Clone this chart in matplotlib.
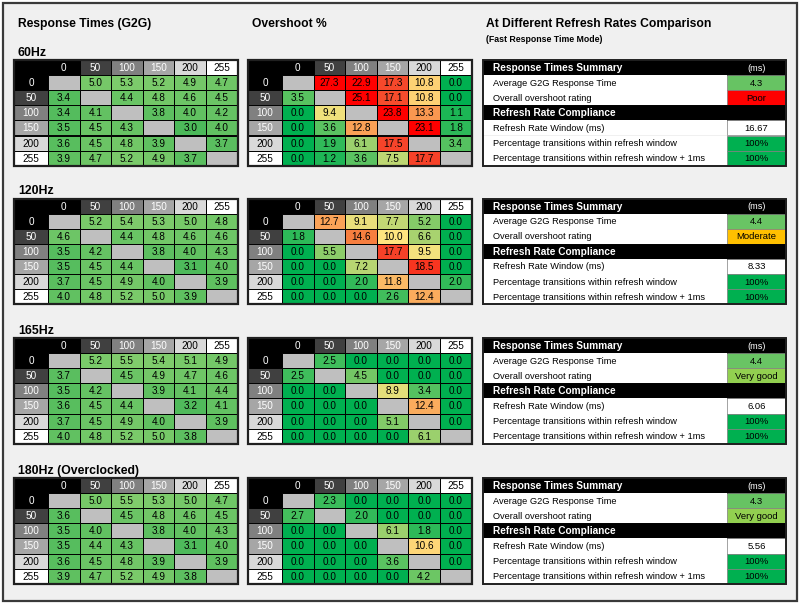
import numpy as np
import matplotlib
matplotlib.use('Agg')
import matplotlib.pyplot as plt
from matplotlib.patches import Rectangle
from matplotlib.colors import LinearSegmentedColormap

plt.rcParams['font.family'] = ['Liberation Sans', 'DejaVu Sans']

# Data

levels = ['0', '50', '100', '150', '200', '255']
sections = ['60Hz', '120Hz', '165Hz', '180Hz (Overclocked)']

resp_60 = [[None, 5.0, 5.3, 5.2, 4.9, 4.7],
           [3.4, None, 4.4, 4.8, 4.6, 4.5],
           [3.4, 4.1, None, 3.8, 4.0, 4.2],
           [3.5, 4.5, 4.3, None, 3.0, 4.0],
           [3.6, 4.5, 4.8, 3.9, None, 3.7],
           [3.9, 4.7, 5.2, 4.9, 3.7, None]]
over_60 = [[None, 27.3, 22.9, 17.3, 10.8, 0.0],
           [3.5, None, 25.1, 17.1, 10.8, 0.0],
           [0.0, 9.4, None, 23.8, 13.3, 1.1],
           [0.0, 3.6, 12.8, None, 23.1, 1.8],
           [0.0, 1.9, 6.1, 17.5, None, 3.4],
           [0.0, 1.2, 3.6, 7.5, 17.7, None]]

resp_120 = [[None, 5.2, 5.4, 5.3, 5.0, 4.8],
            [4.6, None, 4.4, 4.8, 4.6, 4.6],
            [3.5, 4.2, None, 3.8, 4.0, 4.3],
            [3.5, 4.5, 4.4, None, 3.1, 4.0],
            [3.7, 4.5, 4.9, 4.0, None, 3.9],
            [4.0, 4.8, 5.2, 5.0, 3.9, None]]
over_120 = [[None, 12.7, 9.1, 7.7, 5.2, 0.0],
            [1.8, None, 14.6, 10.0, 6.6, 0.0],
            [0.0, 5.5, None, 17.7, 9.5, 0.0],
            [0.0, 0.0, 7.2, None, 18.5, 0.0],
            [0.0, 0.0, 2.0, 11.8, None, 2.0],
            [0.0, 0.0, 0.0, 2.6, 12.4, None]]

resp_165 = [[None, 5.2, 5.5, 5.4, 5.1, 4.9],
            [3.7, None, 4.5, 4.9, 4.7, 4.6],
            [3.5, 4.2, None, 3.9, 4.1, 4.4],
            [3.6, 4.5, 4.4, None, 3.2, 4.1],
            [3.7, 4.5, 4.9, 4.0, None, 3.9],
            [4.0, 4.8, 5.2, 5.0, 3.8, None]]
over_165 = [[None, 2.5, 0.0, 0.0, 0.0, 0.0],
            [2.5, None, 4.5, 0.0, 0.0, 0.0],
            [0.0, 0.0, None, 8.9, 3.4, 0.0],
            [0.0, 0.0, 0.0, None, 12.4, 0.0],
            [0.0, 0.0, 0.0, 5.1, None, 0.0],
            [0.0, 0.0, 0.0, 0.0, 6.1, None]]

resp_180 = [[None, 5.0, 5.5, 5.3, 5.0, 4.7],
            [3.6, None, 4.5, 4.8, 4.6, 4.5],
            [3.5, 4.0, None, 3.8, 4.0, 4.3],
            [3.5, 4.4, 4.3, None, 3.1, 4.0],
            [3.6, 4.5, 4.8, 3.9, None, 3.9],
            [3.9, 4.7, 5.2, 4.9, 3.8, None]]
over_180 = [[None, 2.3, 0.0, 0.0, 0.0, 0.0],
            [2.7, None, 2.0, 0.0, 0.0, 0.0],
            [0.0, 0.0, None, 6.1, 1.8, 0.0],
            [0.0, 0.0, 0.0, None, 10.6, 0.0],
            [0.0, 0.0, 0.0, 3.6, None, 0.0],
            [0.0, 0.0, 0.0, 0.0, 4.2, None]]

avg_g2g = [4.3, 4.4, 4.4, 4.3]
overshoot_rating = ['Poor', 'Moderate', 'Very good', 'Very good']
refresh_window = ['16.67', '8.33', '6.06', '5.56']
within_window = ['100%', '100%', '100%', '100%']
within_window_1ms = ['100%', '100%', '100%', '100%']

summary_labels = ['Response Times Summary', 'Average G2G Response Time',
                  'Overall overshoot rating', 'Refresh Rate Compliance',
                  'Refresh Rate Window (ms)',
                  'Percentage transitions within refresh window',
                  'Percentage transitions within refresh window + 1ms']

resp_tables = [resp_60, resp_120, resp_165, resp_180]
over_tables = [over_60, over_120, over_165, over_180]

# Colours

level_fill = ['#000000', '#404040', '#808080', '#A6A6A6', '#D9D9D9', '#FFFFFF']
level_text = ['white', 'white', 'white', 'white', 'black', 'black']
diag_grey = '#BFBFBF'
rating_colours = {'Poor': '#FF0000', 'Moderate': '#FFC000', 'Very good': '#92D050'}

resp_cmap = LinearSegmentedColormap.from_list('resp', ['#4CB95A', '#80CC6C'])
over_cmap = LinearSegmentedColormap.from_list(
    'over', [(0.0, '#00B050'), (10 / 25, '#FFE47F'), (12.5 / 25, '#FAA85B'),
             (15 / 25, '#F7763A'), (17.5 / 25, '#F6452A'), (22 / 25, '#FF0000'),
             (1.0, '#FF0000')])


def resp_colour(v):
    return resp_cmap(np.clip((v - 3.0) / 2.5, 0, 1))


def over_colour(v):
    return over_cmap(np.clip(v / 25.0, 0, 1))


# Layout (pixels)

W, H = 800, 606
row_h = 15.1
lab_w = 34
col_w = 31.6
sec_top = [60, 198.5, 338, 478]

fig = plt.figure(figsize=(W / 100, H / 100), dpi=100)
ax = fig.add_axes([0, 0, 1, 1])
ax.set_xlim(0, W)
ax.set_ylim(H, 0)
ax.axis('off')

ax.add_patch(Rectangle((3, 3), 794, 598, facecolor='#F0F0F0',
                       edgecolor='#3A3A3A', lw=1.6))

title_fs = 8.7
ax.text(18, 24, 'Response Times (G2G)', fontsize=title_fs, fontweight='bold', va='center')
ax.text(252, 24, 'Overshoot %', fontsize=title_fs, fontweight='bold', va='center')
ax.text(486, 24, 'At Different Refresh Rates Comparison', fontsize=title_fs,
        fontweight='bold', va='center')
ax.text(486, 39, '(Fast Response Time Mode)', fontsize=6.3,
        fontweight='bold', va='center')

cell_fs = 7.2


def draw_matrix(x0, y0, data, colour_fn):
    # header row and row labels
    ax.add_patch(Rectangle((x0, y0), lab_w, row_h, facecolor='black',
                           edgecolor='black', lw=0.7))
    for j, lev in enumerate(levels):
        cx = x0 + lab_w + j * col_w
        ax.add_patch(Rectangle((cx, y0), col_w, row_h, facecolor=level_fill[j],
                               edgecolor='black', lw=0.7))
        ax.text(cx + col_w / 2, y0 + row_h / 2 + 0.5, lev, ha='center',
                va='center', fontsize=cell_fs, color=level_text[j])
    for i, lev in enumerate(levels):
        ry = y0 + (i + 1) * row_h
        ax.add_patch(Rectangle((x0, ry), lab_w, row_h, facecolor=level_fill[i],
                               edgecolor='black', lw=0.7))
        ax.text(x0 + lab_w / 2, ry + row_h / 2 + 0.5, lev, ha='center',
                va='center', fontsize=cell_fs, color=level_text[i])
        for j, v in enumerate(data[i]):
            cx = x0 + lab_w + j * col_w
            fc = diag_grey if v is None else colour_fn(v)
            ax.add_patch(Rectangle((cx, ry), col_w, row_h, facecolor=fc,
                                   edgecolor='black', lw=0.7))
            if v is not None:
                ax.text(cx + col_w / 2, ry + row_h / 2 + 0.5, f'{v:.1f}',
                        ha='center', va='center', fontsize=cell_fs, color='black')
    ax.add_patch(Rectangle((x0, y0), lab_w + 6 * col_w, 7 * row_h,
                           facecolor='none', edgecolor='#202020', lw=1.6))


def draw_summary(x0, y0, k):
    lab_width = 244
    val_w = 59
    values = [None, f'{avg_g2g[k]:.1f}', overshoot_rating[k], None,
              refresh_window[k], within_window[k], within_window_1ms[k]]
    fills = ['black', resp_colour(avg_g2g[k]), rating_colours[overshoot_rating[k]],
             'black', 'white', '#00B050', '#00B050']
    for i, lab in enumerate(summary_labels):
        ry = y0 + i * row_h
        header = i in (0, 3)
        if header:
            ax.add_patch(Rectangle((x0, ry), lab_width + val_w, row_h,
                                   facecolor='black', edgecolor='black', lw=0.7))
            ax.text(x0 + 10, ry + row_h / 2 + 0.5, lab, ha='left', va='center',
                    fontsize=7.3, fontweight='bold', color='white')
            if i == 0:
                ax.text(x0 + lab_width + val_w / 2, ry + row_h / 2 + 0.5, '(ms)',
                        ha='center', va='center', fontsize=6.6, color='white')
        else:
            ax.add_patch(Rectangle((x0, ry), lab_width, row_h,
                                   facecolor='white', edgecolor='none'))
            ax.add_patch(Rectangle((x0 + lab_width, ry), val_w, row_h,
                                   facecolor=fills[i], edgecolor='#808080', lw=0.5))
            ax.text(x0 + 10, ry + row_h / 2 + 0.5, lab, ha='left', va='center',
                    fontsize=6.7, color='black')
            ax.text(x0 + lab_width + val_w / 2, ry + row_h / 2 + 0.5, values[i],
                    ha='center', va='center', fontsize=6.8, color='black')
    ax.add_patch(Rectangle((x0, y0), lab_width + val_w, 7 * row_h,
                           facecolor='none', edgecolor='#202020', lw=1.4))


for k, name in enumerate(sections):
    top = sec_top[k]
    ax.text(18, top - 7, name, fontsize=8.8, fontweight='bold', va='center')
    draw_matrix(14, top, resp_tables[k], resp_colour)
    draw_matrix(248, top, over_tables[k], over_colour)
    draw_summary(483, top, k)

fig.savefig('out.png', dpi=100, facecolor='white')
